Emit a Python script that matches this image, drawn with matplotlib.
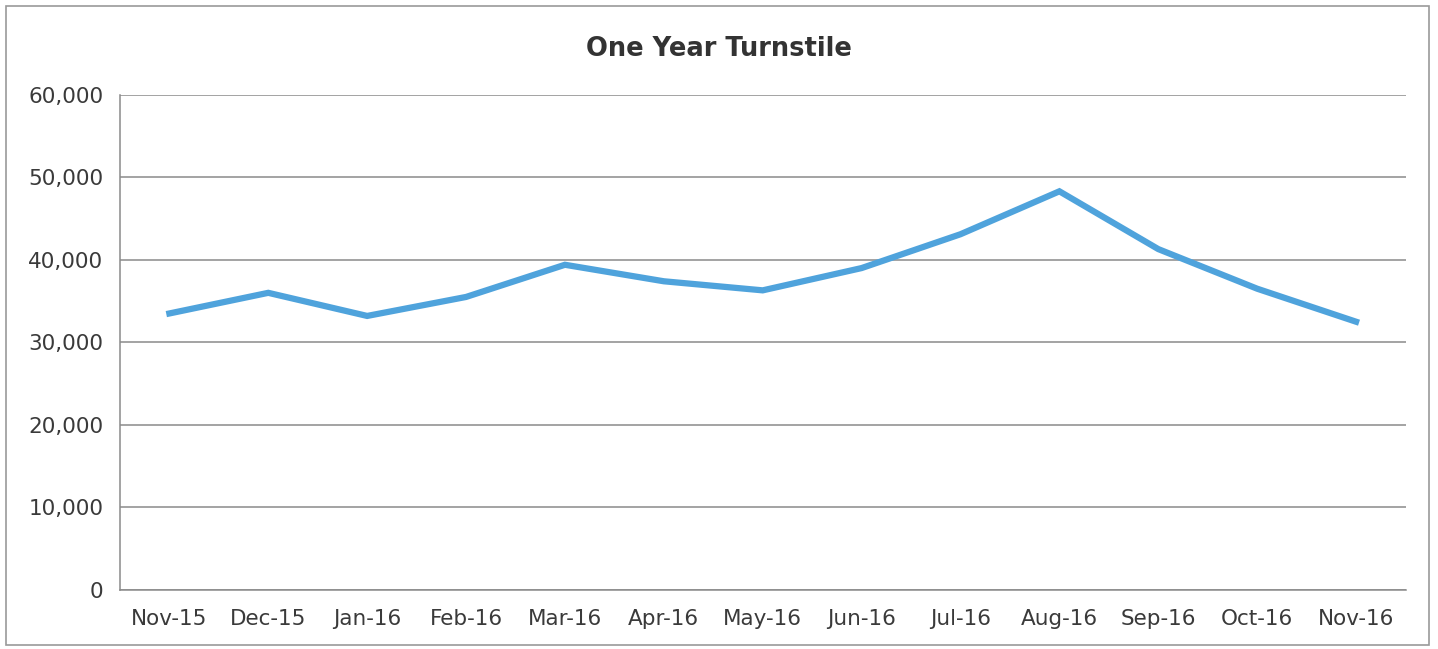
import matplotlib.pyplot as plt
from matplotlib.ticker import FuncFormatter
from matplotlib.patches import Rectangle

# --- Data ---------------------------------------------------------------------
months = ["Nov-15", "Dec-15", "Jan-16", "Feb-16", "Mar-16", "Apr-16", "May-16",
          "Jun-16", "Jul-16", "Aug-16", "Sep-16", "Oct-16", "Nov-16"]
turnstile = [33500, 36000, 33200, 35500, 39400, 37400, 36300,
             39000, 43100, 48300, 41300, 36500, 32500]

# --- Plot ---------------------------------------------------------------------
plt.rcParams['font.family'] = ['DejaVu Sans']

fig = plt.figure(figsize=(14.38, 6.49), dpi=100)
ax = fig.add_axes([0.0834, 0.091, 0.894, 0.763])

x = range(len(months))
ax.plot(x, turnstile, color='#4FA3DC', linewidth=4.5, solid_joinstyle='miter')

ax.set_xlim(-0.5, len(months) - 0.5)
ax.set_ylim(0, 60000)
ax.set_yticks(range(0, 60001, 10000))
ax.yaxis.set_major_formatter(FuncFormatter(lambda v, p: f"{int(v):,}"))
ax.set_xticks(list(x))
ax.set_xticklabels(months)

ax.grid(axis='y', color='#8a8a8a', linewidth=1.1)
ax.set_axisbelow(True)
ax.tick_params(length=0, labelsize=15.5, colors='#3a3a3a')
ax.tick_params(axis='y', pad=12)
ax.tick_params(axis='x', pad=14)
for side in ['top', 'right']:
    ax.spines[side].set_visible(False)
for side in ['left', 'bottom']:
    ax.spines[side].set_color('#8a8a8a')
    ax.spines[side].set_linewidth(1.1)

fig.text(0.5, 0.925, "One Year Turnstile", ha='center', va='center',
         fontsize=18.5, fontweight='bold', color='#333333')

# outer chart border
fig.patches.append(Rectangle((0.004, 0.006), 0.99, 0.985, transform=fig.transFigure,
                             fill=False, edgecolor='#9a9a9a', linewidth=1.2))

fig.savefig("out.png", dpi=100)
